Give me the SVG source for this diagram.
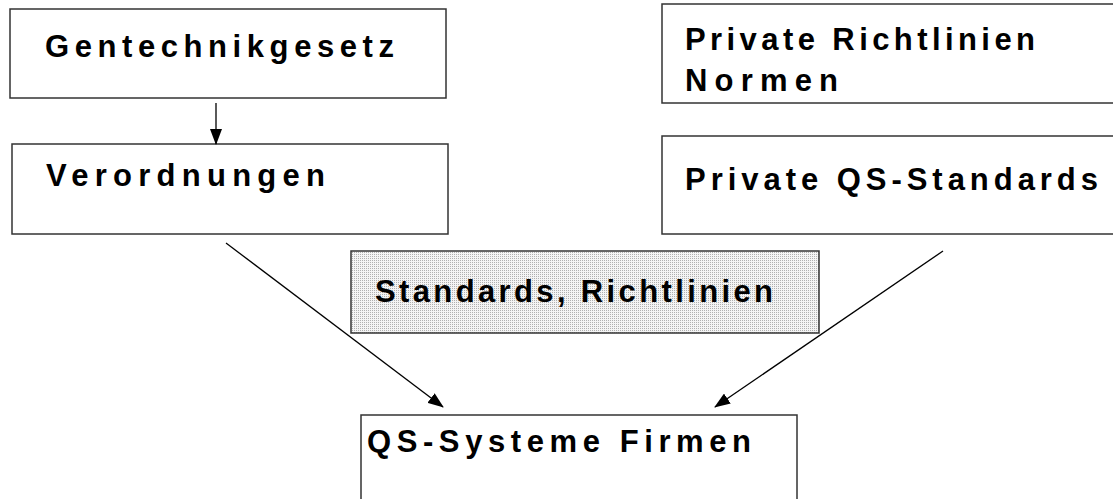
<svg xmlns="http://www.w3.org/2000/svg" width="1113" height="499" viewBox="0 0 1113 499">
<defs>
<pattern id="dots" width="2" height="2" patternUnits="userSpaceOnUse">
<rect width="2" height="2" fill="#f4f4f4"/>
<rect width="1" height="1" fill="#b0b0b0"/>
</pattern>
<marker id="ah" markerWidth="16" markerHeight="12" refX="15" refY="6" orient="auto" markerUnits="userSpaceOnUse">
<path d="M0,0 L16,6 L0,12 Z" fill="#000"/>
</marker>
<style>
.box{fill:#fff;stroke:#333;stroke-width:1.5}
.t{font-family:"Liberation Sans",Arial,sans-serif;font-weight:bold;font-size:31px;fill:#000}
.c{stroke:#000;stroke-width:1.3;fill:none;marker-end:url(#ah)}
</style>
</defs>
<rect width="1113" height="499" fill="#fff"/>
<g id="gentechnikgesetz">
<rect class="box" x="10" y="9" width="436" height="89"/>
<text class="t" x="45" y="57" textLength="349" lengthAdjust="spacing">Gentechnikgesetz</text>
</g>
<g id="verordnungen">
<rect class="box" x="12" y="144" width="436" height="90"/>
<text class="t" x="46" y="186" textLength="279" lengthAdjust="spacing">Verordnungen</text>
</g>
<g id="private-richtlinien">
<rect class="box" x="662" y="4" width="460" height="99"/>
<text class="t" x="685" y="50" textLength="350" lengthAdjust="spacing">Private Richtlinien</text>
<text class="t" x="685" y="91" textLength="153" lengthAdjust="spacing">Normen</text>
</g>
<g id="private-qs-standards">
<rect class="box" x="662" y="136" width="460" height="98"/>
<text class="t" x="685" y="190" textLength="413" lengthAdjust="spacing">Private QS-Standards</text>
</g>
<g id="standards-richtlinien">
<rect x="351" y="251" width="468" height="82" fill="url(#dots)" stroke="#333" stroke-width="1.5"/>
<text class="t" x="375" y="302" textLength="398" lengthAdjust="spacing">Standards, Richtlinien</text>
</g>
<g id="qs-systeme-firmen">
<rect class="box" x="361" y="415" width="436" height="100"/>
<text class="t" x="367" y="452" textLength="384" lengthAdjust="spacing">QS-Systeme Firmen</text>
</g>
<g id="connectors">
<line class="c" x1="216" y1="103" x2="216" y2="144"/>
<line class="c" x1="226" y1="243" x2="443" y2="407"/>
<line class="c" x1="943" y1="251" x2="715" y2="407"/>
</g>
</svg>
